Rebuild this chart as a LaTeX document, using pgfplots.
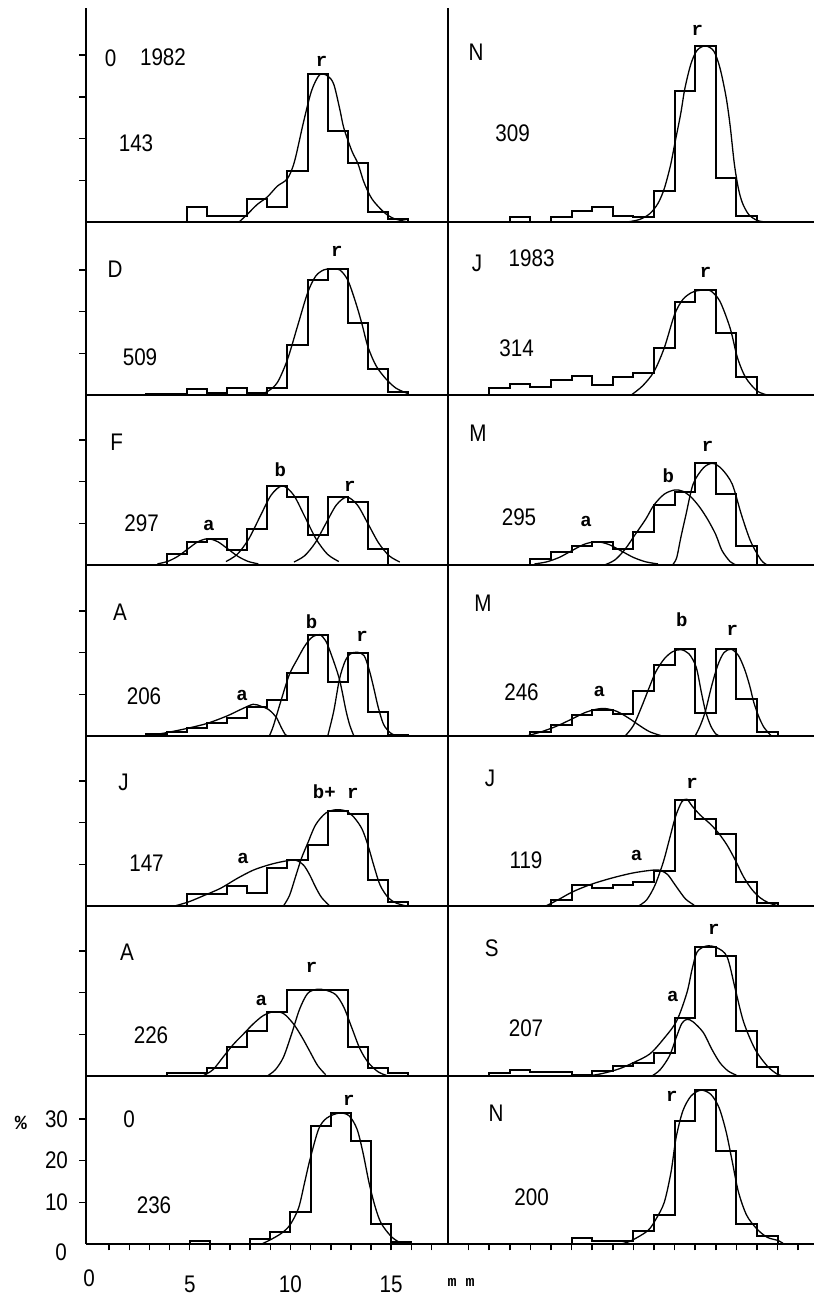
\documentclass[border=0pt]{standalone}
\usepackage{fontspec}
\usepackage{pgfplots}
\pgfplotsset{compat=1.18}
\newfontfamily\numfont[FakeStretch=0.86]{Liberation Sans}
\newfontfamily\lblfont{Liberation Mono}
\newcommand{\bigf}{\numfont\fontsize{24}{24}\selectfont}
\newcommand{\tickf}{\numfont\fontsize{24}{24}\selectfont}
\newcommand{\crvf}{\lblfont\bfseries\fontsize{19}{19}\selectfont}
\tikzset{lab/.style={font=\crvf}}
\pgfplotsset{
  panel/.style={scale only axis, axis x line*=bottom, axis y line*=left,
    axis line style={line width=1.7pt,-}, tick align=outside, major tick length=6.5pt,
    tick style={line width=1.5pt, black}, clip=false, xmin=0, ymin=0,
    xtick=\empty, ytick=\empty, anchor=south west,
    /pgf/number format/assume math mode=true},
  Lp/.style={panel, width=362pt, xmax=17.97},
  Rp/.style={panel, width=366pt, xmax=17.77},
  hist/.style={const plot, line width=2pt, black, mark=none},
  crv/.style={smooth, line width=1.3pt, black, mark=none},
}
\begin{document}
\begin{tikzpicture}
\useasboundingbox (0,0) rectangle (814pt,1299pt);
% ---------------- Row 1 ----------------
\begin{axis}[Lp, at={(86pt,1077pt)}, height=214pt, ymax=51.3, ytick={10,20,30,40}, yticklabels={}]
\addplot[hist] coordinates {(5,0)(5,3.5)(6,1.5)(7,1.5)(8,5.6)(9,3.7)(10,12.3)(11,35.5)(12,21.8)(13,14.2)(14,2.3)(15,0.7)(16,0)};
\addplot[crv] coordinates {(7.6,0)(8.0,1.8)(8.5,4.2)(9.0,6.0)(9.5,8.6)(10.0,10.4)(10.35,14.5)(10.8,24)(11.2,31.5)(11.6,35.3)(12.0,35.0)(12.3,33)(12.6,27)(12.8,22.5)(13.2,17)(13.5,14)(13.8,9.5)(14.2,5.5)(14.8,2.3)(15.3,0.8)(16,0)};
\node[lab] at (axis cs:11.7,38.5) {r};
\end{axis}
\begin{axis}[Rp, at={(448pt,1077pt)}, height=214pt, ymax=51.3]
\addplot[hist] coordinates {(3,0)(3,1.3)(4,0)(5,1.3)(6,2.7)(7,3.5)(8,1.4)(9,1.3)(10,7.5)(11,31.3)(12,42.2)(13,10.6)(14,1.4)(15,0)};
\addplot[crv] coordinates {(8.7,0)(9.3,0.6)(9.8,2)(10.2,4.5)(10.5,8)(10.8,13.5)(11.0,18.5)(11.3,26)(11.5,32)(11.8,38)(12.1,41.2)(12.5,42.2)(12.9,41)(13.2,37)(13.5,30)(13.7,23)(13.9,14)(14.1,8)(14.3,4.5)(14.6,1.8)(15.0,0.4)(15.4,0)};
\node[lab] at (axis cs:12.1,46) {r};
\end{axis}
% ---------------- Row 2 ----------------
\begin{axis}[Lp, at={(86pt,904pt)}, height=173pt, ymax=41.5, ytick={10,20,30}, yticklabels={}]
\addplot[hist] coordinates {(3,0)(3,0.3)(4,0.3)(5,1.4)(6,0.4)(7,1.6)(8,0.5)(9,1.7)(10,12)(11,27.7)(12,30.2)(13,17.2)(14,6.2)(15,0.6)(16,0)};
\addplot[crv] coordinates {(8.5,0)(9.0,0.8)(9.5,3)(10.0,8.5)(10.5,16.5)(11.0,24.5)(11.4,28.5)(11.8,30)(12.2,30.3)(12.6,30)(13.0,27.5)(13.4,22)(13.7,17)(14.0,11.5)(14.4,7)(14.9,3.8)(15.4,1.6)(16.0,0.3)};
\node[lab] at (axis cs:12.45,34.5) {r};
\end{axis}
\begin{axis}[Rp, at={(448pt,904pt)}, height=173pt, ymax=41.5]
\addplot[hist] coordinates {(2,0)(2,1.7)(3,2.6)(4,1.8)(5,3.6)(6,4.6)(7,2.4)(8,4.2)(9,5.2)(10,11.2)(11,22.2)(12,25.2)(13,14.9)(14,4.2)(15,0)};
\addplot[crv] coordinates {(8.9,0)(9.45,2.2)(10.0,5.6)(10.5,11.3)(11.0,19.3)(11.4,22.9)(11.8,24.5)(12.1,25)(12.45,25.2)(12.75,25)(13.2,22.5)(13.7,16)(14.05,9)(14.45,4.2)(15.0,1)(15.5,0)};
\node[lab] at (axis cs:12.5,29.5) {r};
\end{axis}
% ---------------- Row 3 ----------------
\begin{axis}[Lp, at={(86pt,734pt)}, height=170pt, ymax=40.8, ytick={10,20,30}, yticklabels={}]
\addplot[hist] coordinates {(4,0)(4,2.6)(5,5.5)(6,6.2)(7,3.6)(8,8.6)(9,19)(10,16.2)(11,7.2)(12,16.2)(13,15.2)(14,3.8)(15,0)};
\addplot[crv] coordinates {(3.55,0.28)(4.05,0.85)(4.55,2.05)(5.05,3.82)(5.55,5.56)(6.05,6.3)(6.55,5.56)(7.05,3.82)(7.55,2.05)(8.05,0.85)(8.55,0.28)};
\addplot[crv] coordinates {(6.95,0.83)(7.51,2.57)(8.07,6.17)(8.63,11.52)(9.19,16.77)(9.75,19)(10.31,16.77)(10.87,11.52)(11.43,6.17)(11.99,2.57)(12.55,0.83)};
\addplot[crv] coordinates {(10.325,0.72)(10.85,2.21)(11.375,5.29)(11.9,9.89)(12.425,14.38)(12.95,16.3)(13.475,14.38)(14.0,9.89)(14.525,5.29)(15.05,2.21)(15.575,0.72)};
\node[lab] at (axis cs:6.1,9.6) {a};
\node[lab] at (axis cs:9.65,22.8) {b};
\node[lab] at (axis cs:13.1,18.8) {r};
\end{axis}
\begin{axis}[Rp, at={(448pt,734pt)}, height=170pt, ymax=40.8]
\addplot[hist] coordinates {(4,0)(4,1.5)(5,3.0)(6,4.5)(7,5.6)(8,3.8)(9,7.8)(10,14.5)(11,17.5)(12,24.4)(13,17)(14,4.6)(15,0)};
\addplot[crv] coordinates {(4.2,0.25)(4.8,0.76)(5.4,1.82)(6.0,3.4)(6.6,4.94)(7.2,5.6)(7.8,4.94)(8.4,3.4)(9.0,1.82)(9.6,0.76)(10.2,0.25)};
\addplot[crv] coordinates {(7.6,0)(8.1,1.2)(8.6,3.8)(9.1,7.4)(9.6,11)(10.0,14.4)(10.5,17)(11.0,18)(11.4,17.7)(11.8,16.3)(12.2,14)(12.6,11)(13.0,7.3)(13.3,3.5)(13.7,0.8)(14.0,0)};
\addplot[crv] coordinates {(10.9,0)(11.1,1.7)(11.3,6.5)(11.55,12)(11.9,19.4)(12.4,23.3)(12.85,24.4)(13.3,23)(13.8,19.4)(14.25,12)(14.7,5.6)(15.2,1.2)(15.5,0)};
\node[lab] at (axis cs:6.7,10.4) {a};
\node[lab] at (axis cs:10.7,21.4) {b};
\node[lab] at (axis cs:12.6,28.4) {r};
\end{axis}
% ---------------- Row 4 ----------------
\begin{axis}[Lp, at={(86pt,563pt)}, height=171pt, ymax=41.0, ytick={10,20,30}, yticklabels={}]
\addplot[hist] coordinates {(3,0)(3,0.4)(4,1.0)(5,1.8)(6,3.0)(7,4.2)(8,7.0)(9,8.6)(10,15)(11,24.2)(12,13)(13,20)(14,5.8)(15,0.3)(16,0)};
\addplot[crv] coordinates {(3.0,0)(4.0,0.8)(5.0,1.8)(6.0,3.0)(7.0,4.8)(7.7,6.4)(8.3,7.6)(8.7,7.1)(9.05,6.4)(9.3,5.3)(9.46,4.4)(9.7,2)(9.9,0.3)(10.05,0)};
\addplot[crv] coordinates {(9.1,0)(9.3,2.4)(9.7,8.8)(10.1,14.8)(10.5,18.5)(10.85,21.5)(11.2,23.6)(11.6,24.3)(11.9,22.8)(12.17,19.6)(12.58,13.6)(12.91,6)(13.1,2.5)(13.3,0)};
\addplot[crv] coordinates {(12.0,0)(12.3,6)(12.58,13.6)(12.85,17.8)(13.1,19.6)(13.45,20.1)(13.8,19.3)(14.05,16)(14.28,11.6)(14.5,7)(14.77,2.8)(15.1,0.8)(15.4,0)};
\node[lab] at (axis cs:7.75,9.7) {a};
\node[lab] at (axis cs:11.2,27.4) {b};
\node[lab] at (axis cs:13.7,23.9) {r};
\end{axis}
\begin{axis}[Rp, at={(448pt,563pt)}, height=171pt, ymax=41.0]
\addplot[hist] coordinates {(4,0)(4,0.9)(5,2.6)(6,5)(7,6.2)(8,5.2)(9,10.8)(10,17)(11,20.8)(12,5.4)(13,20.8)(14,8.8)(15,1)(16,0)};
\addplot[crv] coordinates {(3.8,0)(4.4,0.8)(5.2,2.2)(5.9,3.8)(6.6,5.5)(7.1,6.3)(7.6,6.6)(8.2,5.9)(8.8,4.2)(9.3,2.5)(9.8,1.0)(10.4,0)};
\addplot[crv] coordinates {(8.6,0)(9.0,2.5)(9.4,7)(9.8,12)(10.1,15.5)(10.5,18.5)(10.9,20.2)(11.3,20.7)(11.7,19.7)(12.05,16.5)(12.3,10.5)(12.5,6)(12.75,2.5)(13.0,0.5)(13.2,0)};
\addplot[crv] coordinates {(12.0,0)(12.25,2.5)(12.5,6)(12.8,12)(13.1,17)(13.4,20)(13.75,20.8)(14.1,19.3)(14.4,16)(14.65,12)(14.85,8)(15.1,4.5)(15.35,2)(15.7,0)};
\node[lab] at (axis cs:7.35,10.6) {a};
\node[lab] at (axis cs:11.35,27.8) {b};
\node[lab] at (axis cs:13.8,25.4) {r};
\end{axis}
% ---------------- Row 5 ----------------
\begin{axis}[Lp, at={(86pt,393pt)}, height=170pt, ymax=40.8, ytick={10,20,30}, yticklabels={}]
\addplot[hist] coordinates {(5,0)(5,2.9)(6,2.9)(7,4.8)(8,3.2)(9,9)(10,11)(11,14.6)(12,22.9)(13,22)(14,6.2)(15,1)(16,0)};
\addplot[crv] coordinates {(4.4,0)(5.1,1)(5.9,2.6)(6.7,4.3)(7.5,6.6)(8.3,8.6)(9.1,9.9)(9.8,10.7)(10.4,11)(10.8,9.8)(11.1,7.5)(11.4,4.5)(11.7,2)(12.1,0)};
\addplot[crv] coordinates {(9.8,0)(10.1,2.5)(10.4,7)(10.7,11.5)(11.0,15)(11.4,19.5)(11.9,22.3)(12.4,23.1)(12.9,22.8)(13.3,21.3)(13.7,18.5)(14.0,14.5)(14.3,9.5)(14.6,5)(15.0,2)(15.4,0.7)(15.9,0)};
\node[lab] at (axis cs:7.8,11.4) {a};
\node[lab] at (axis cs:12.4,27.4) {b+ r};
\end{axis}
\begin{axis}[Rp, at={(448pt,393pt)}, height=170pt, ymax=40.8]
\addplot[hist] coordinates {(5,0)(5,1.4)(6,5)(7,4.2)(8,5)(9,5.8)(10,8.3)(11,25.5)(12,20.8)(13,17.2)(14,5.8)(15,0.8)(16,0)};
\addplot[crv] coordinates {(4.75,0)(5.35,1.5)(6.05,3.4)(6.95,5.2)(7.95,6.7)(8.95,7.9)(9.75,8.5)(10.25,8.6)(10.65,7.6)(10.95,5.6)(11.25,3.5)(11.55,1.6)(11.95,0.2)};
\addplot[crv] coordinates {(9.25,0)(9.65,1.5)(10.05,5)(10.45,10.5)(10.75,16)(11.05,21.5)(11.35,25)(11.6,25.6)(11.85,24)(12.25,21.8)(12.75,19.6)(13.15,17.4)(13.55,14.6)(13.95,11)(14.35,7)(14.75,4)(15.15,2)(15.55,0.8)(16.05,0)};
\node[lab] at (axis cs:9.15,12.2) {a};
\node[lab] at (axis cs:11.85,29.4) {r};
\end{axis}
% ---------------- Row 6 ----------------
\begin{axis}[Lp, at={(86pt,223pt)}, height=170pt, ymax=40.8, ytick={10,20,30}, yticklabels={}]
\addplot[hist] coordinates {(4,0)(4,0.6)(6,1.8)(7,7)(8,10.8)(9,15.4)(10,20.6)(13,7)(14,1.8)(15,0.6)(16,0)};
\addplot[crv] coordinates {(5.8,0)(6.3,1.5)(6.8,4.5)(7.3,7.5)(7.8,10)(8.3,12.5)(8.8,14.5)(9.3,15.4)(9.8,15)(10.3,12.5)(10.7,9.5)(11.1,6)(11.5,2.5)(11.9,0.3)};
\addplot[crv] coordinates {(9.0,0)(9.4,1.5)(9.8,4.5)(10.2,10)(10.6,16)(11.0,19.8)(11.45,20.8)(11.9,20.6)(12.4,19.5)(12.8,16.5)(13.2,11.5)(13.6,6.5)(14.0,3.3)(14.5,1.0)(15.0,0)};
\node[lab] at (axis cs:8.7,18.2) {a};
\node[lab] at (axis cs:11.2,26) {r};
\end{axis}
\begin{axis}[Rp, at={(448pt,223pt)}, height=170pt, ymax=40.8]
\addplot[hist] coordinates {(2,0)(2,0.7)(3,1.5)(4,1.0)(6,0.3)(7,1.2)(8,2.4)(9,3.2)(10,5.4)(11,14)(12,31)(13,28.8)(14,10.8)(15,2.2)(16,0)};
\addplot[crv] coordinates {(9.9,0)(10.3,1.5)(10.75,4.8)(11.1,9.5)(11.35,12.6)(11.6,13.6)(11.9,13)(12.4,10.4)(12.8,6.5)(13.2,3.2)(13.6,1.2)(14.0,0.2)};
\addplot[crv] coordinates {(6.8,0)(7.5,0.6)(8.3,1.7)(9.0,3.2)(9.8,5.3)(10.45,8.8)(11.1,13.2)(11.6,20)(11.85,25.6)(12.1,29.8)(12.55,31.2)(13.05,30.8)(13.55,28.6)(13.95,20.8)(14.35,13)(14.9,6.5)(15.5,2.4)(16.0,0.4)(16.3,0)};
\node[lab] at (axis cs:10.92,19.2) {a};
\node[lab] at (axis cs:12.9,35.2) {r};
\end{axis}
% ---------------- Row 7 ----------------
\begin{axis}[Lp, at={(86pt,55pt)}, height=168pt, ymax=40.3, xmin=-0.15, xmax=17.82,
  xtick={1,...,17}, xticklabels={,,,,5,,,,,10,,,,,15,,},
  extra x ticks={0}, extra x tick labels={0}, extra x tick style={major tick length=0pt},
  ytick={10,20,30},
  xticklabel style={font=\tickf, yshift=-22pt},
  yticklabel style={font=\tickf, xshift=-8pt}]
\addplot[hist] coordinates {(5,0)(5,0.6)(6,0)(8,1.2)(9,2.8)(10,7.6)(11,28.2)(12,31.4)(13,24.8)(14,4.8)(15,0.4)(16,0)};
\addplot[crv] coordinates {(8.57,0)(9.0,1)(9.56,2.6)(9.98,4.6)(10.4,8.6)(10.7,14.7)(10.97,20.3)(11.4,27.6)(11.8,30.2)(12.4,31.4)(12.9,30.8)(13.3,27.6)(13.6,21.9)(13.9,14.7)(14.2,9)(14.5,5)(15.0,1.8)(15.45,0.3)(15.7,0)};
\node[lab] at (axis cs:12.9,34.4) {r};
\end{axis}
\begin{axis}[Rp, at={(448pt,55pt)}, height=168pt, ymax=40.3, xtick={1,...,17}, xticklabels={}]
\addplot[hist] coordinates {(6,0)(6,1.4)(7,0.6)(9,3.1)(10,7)(11,29.4)(12,36.9)(13,22.2)(14,4.8)(15,1.9)(16,0)};
\addplot[crv] coordinates {(8.4,0)(8.9,0.8)(9.7,3.2)(10.1,6)(10.5,10)(10.83,17.3)(11.07,25.4)(11.4,31.9)(11.8,35.5)(12.28,36.9)(12.76,35.9)(13.16,32.7)(13.5,27)(13.8,19.8)(14.1,12.5)(14.5,6.9)(15.0,3.6)(15.5,1.6)(16.05,0.8)(16.3,0)};
\node[lab] at (axis cs:10.87,35.4) {r};
\end{axis}
% ---------------- texts ----------------
\node[font=\tickf] at (61pt,47pt) {0};
\node[font=\lblfont\bfseries\fontsize{20}{20}\selectfont] at (21pt,176pt) {\%};
\node[font=\lblfont\bfseries\fontsize{15}{15}\selectfont] at (461pt,17pt) {m m};
\begin{scope}[every node/.style={font=\bigf}]
\node at (110.7pt,1241pt) {0}; \node at (163pt,1242pt) {1982}; \node at (136pt,1156pt) {143};
\node at (476pt,1247pt) {N}; \node at (512.7pt,1166pt) {309};
\node at (115pt,1030pt) {D}; \node at (140pt,942pt) {509};
\node at (477pt,1036pt) {J}; \node at (531.7pt,1041pt) {1983}; \node at (516.7pt,951pt) {314};
\node at (116.7pt,857pt) {F}; \node at (141.7pt,776pt) {297};
\node at (478pt,866pt) {M}; \node at (519pt,782pt) {295};
\node at (120pt,687pt) {A}; \node at (144pt,603pt) {206};
\node at (483pt,696pt) {M}; \node at (521.5pt,607pt) {246};
\node at (123.5pt,517pt) {J}; \node at (146.5pt,436pt) {147};
\node at (490pt,521pt) {J}; \node at (526pt,439pt) {119};
\node at (127pt,347pt) {A}; \node at (151pt,264pt) {226};
\node at (491.7pt,351pt) {S}; \node at (526pt,271pt) {207};
\node at (129pt,180pt) {0}; \node at (154pt,94pt) {236};
\node at (496pt,186pt) {N}; \node at (531.7pt,102pt) {200};
\end{scope}
\end{tikzpicture}
\end{document}
